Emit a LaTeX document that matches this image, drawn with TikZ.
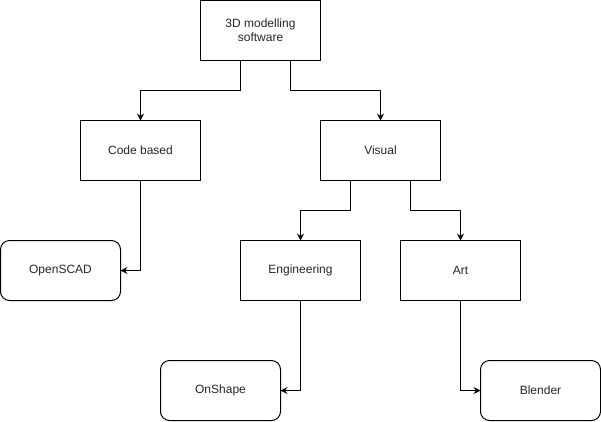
\documentclass[tikz,border=0pt]{standalone}
\usepackage{fontspec}
\setmainfont{Liberation Sans}
\usetikzlibrary{arrows.meta}
\begin{document}
\begin{tikzpicture}[x=1pt,y=-1pt,
  box/.style={draw=black,line width=1pt,fill=white,minimum width=120pt,minimum height=60pt,inner sep=0pt,outer sep=0pt,align=center,font=\fontsize{12}{14}\selectfont,text=black!85},
  rbox/.style={box,rounded corners=9pt},
  arr/.style={draw=black,line width=1pt,-{Stealth[length=7pt,width=7pt,inset=2.5pt]}}]
\useasboundingbox (0,0) rectangle (601,421);
\node[box] (top) at (260.5,30.5) {3D modelling\\software};
\node[box] (code) at (140.5,150.5) {Code based};
\node[box] (visual) at (380.5,150.5) {Visual};
\node[rbox] (openscad) at (60.5,270.5) {OpenSCAD};
\node[box] (eng) at (300.5,270.5) {Engineering};
\node[box] (art) at (460.5,270.5) {Art};
\node[rbox] (onshape) at (220.5,390.5) {OnShape};
\node[rbox] (blender) at (540.5,390.5) {Blender};
\draw[arr] ([xshift=-20pt]top.south) -- ++(0,30) -| (code.north);
\draw[arr] ([xshift=30pt]top.south) -- ++(0,30) -| (visual.north);
\draw[arr] (code.south) |- (openscad.east);
\draw[arr] ([xshift=-30pt]visual.south) -- ++(0,30) -| (eng.north);
\draw[arr] ([xshift=30pt]visual.south) -- ++(0,30) -| (art.north);
\draw[arr] (eng.south) |- (onshape.east);
\draw[arr] (art.south) |- (blender.west);
\end{tikzpicture}
\end{document}
